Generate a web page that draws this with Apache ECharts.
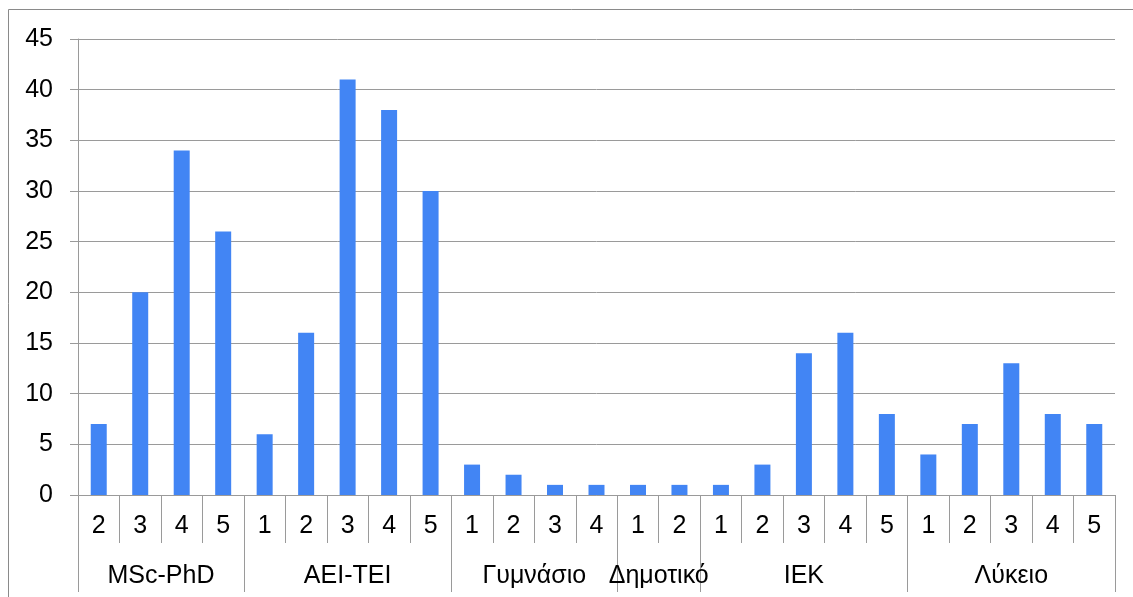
<!DOCTYPE html>
<html>
<head>
<meta charset="utf-8">
<script src="https://cdn.jsdelivr.net/npm/echarts@6/dist/echarts.min.js"></script>
<style>
  html, body { margin: 0; padding: 0; background: #fff; }
  #chart { width: 1133px; height: 597px; }
</style>
</head>
<body>
<div id="chart"></div>
<script>
// Education level groups and the number of answer levels within each
const groupNames = ['MSc-PhD', 'AEI-TEI', 'Γυμνάσιο', 'Δημοτικό', 'IEK', 'Λύκειο'];
const groupSizes = [4, 5, 4, 2, 5, 5];

// Answer level of every bar, in order
const levels = ['2', '3', '4', '5',
                '1', '2', '3', '4', '5',
                '1', '2', '3', '4',
                '1', '2',
                '1', '2', '3', '4', '5',
                '1', '2', '3', '4', '5'];

// Counts for every bar
const counts = [7, 20, 34, 26,
                6, 16, 41, 38, 30,
                3, 2, 1, 1,
                1, 1,
                1, 3, 14, 16, 8,
                4, 7, 13, 8, 7];

// Y axis range
const yMin = 0, yMax = 45, yStep = 5;

// Group boundaries and centres in category units
const bounds = [0];
groupSizes.forEach(n => bounds.push(bounds[bounds.length - 1] + n));
const centers = groupSizes.map((n, i) => bounds[i] + n / 2);

const font = '"Liberation Sans", Arial, sans-serif';
const fontSize = 25;
const gridColor = '#9a9a9a';

const chart = echarts.init(document.getElementById('chart'));
chart.setOption({
  animation: false,
  backgroundColor: '#fff',
  textStyle: { fontFamily: font },
  graphic: [{
    type: 'rect',
    shape: { x: 8.5, y: 9.5, width: 1140, height: 600 },
    style: { fill: 'none', stroke: '#8a8a8a', lineWidth: 1 },
    silent: true,
    z: -10
  }],
  grid: { left: 78, right: 18, top: 39, bottom: 102 },
  xAxis: [{
    type: 'category',
    data: levels,
    boundaryGap: true,
    axisLine: { lineStyle: { color: gridColor, width: 1 } },
    axisTick: { show: true, interval: 0, length: 48, lineStyle: { color: gridColor } },
    axisLabel: { interval: 0, fontSize: fontSize, color: '#000', margin: 19, fontFamily: font },
    splitLine: { show: false }
  }, {
    type: 'value',
    min: 0,
    max: levels.length,
    position: 'bottom',
    axisLine: { show: false },
    axisTick: { show: true, customValues: bounds, length: 97, lineStyle: { color: gridColor } },
    axisLabel: {
      show: true,
      customValues: centers,
      fontSize: fontSize,
      color: '#000',
      margin: 69,
      fontFamily: font,
      formatter: function (v) {
        const i = centers.findIndex(c => Math.abs(c - v) < 1e-6);
        return i >= 0 ? groupNames[i] : '';
      }
    },
    splitLine: { show: false }
  }],
  yAxis: {
    type: 'value',
    min: yMin,
    max: yMax,
    interval: yStep,
    axisLine: { show: true, lineStyle: { color: gridColor } },
    axisTick: { show: true, length: 8, lineStyle: { color: gridColor } },
    axisLabel: { fontSize: fontSize, color: '#000', margin: 25, fontFamily: font },
    splitLine: { show: true, lineStyle: { color: gridColor, width: 1 } }
  },
  series: [{
    type: 'bar',
    xAxisIndex: 0,
    yAxisIndex: 0,
    data: counts,
    barWidth: 16,
    itemStyle: { color: '#4285F4' }
  }]
});
</script>
</body>
</html>
